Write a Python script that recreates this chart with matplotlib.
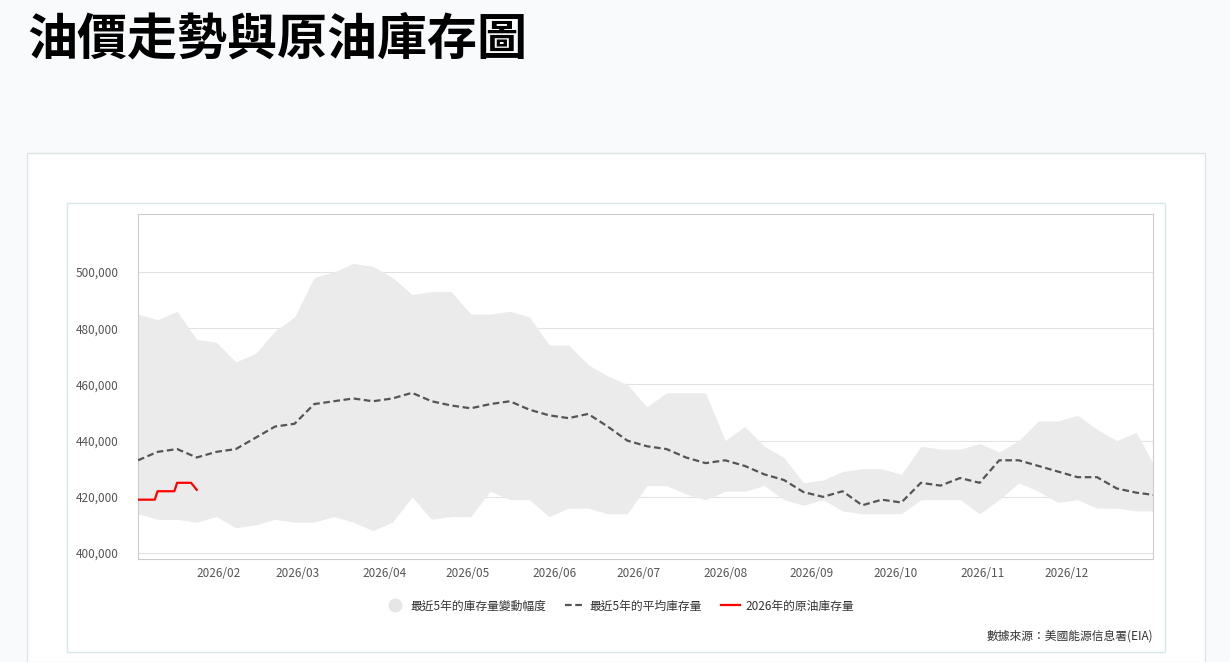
import matplotlib
matplotlib.use("Agg")
import matplotlib.pyplot as plt
import matplotlib.patches as mpatches
from matplotlib.lines import Line2D
import numpy as np
import pandas as pd

plt.rcParams['font.family'] = ['Noto Sans CJK TC', 'DejaVu Sans']

weeks = pd.date_range("2026-01-03", periods=53, freq="7D")
upper = [485,483,486,476,475,468,471,479,484,498,500,503,502,498,492,493,493,485,485,486,
         484,474,474,467,463,460,452,457,457,457,440,445,438,434,425,426,429,430,430,428,
         438,437,437,439,436,440,447,447,449,444,440,443,430]
lower = [414,412,412,411,413,409,410,412,411,411,413,411,408,411,420,412,413,413,422,419,
         419,413,416,416,414,414,424,424,421,419,422,422,424,419,417,419,415,414,414,414,
         419,419,419,414,419,425,422,418,419,416,416,415,415]
avg = [433,436,437,434,436,437,441,445,446,453,454,455,454,455,457,454,452.5,451.5,453,454,
       451,449,448,449.5,445,440,438,437,434,432,433,431,428,426,421.7,420,422,417,419,418,
       425,424,426.7,425,433,433,431,429,427,427,423,421.5,420.6]
red_dates = pd.to_datetime(["2026-01-03","2026-01-09","2026-01-10","2026-01-16","2026-01-17","2026-01-22","2026-01-24"])
red_vals = [419,419,422,422,425,425,422.5]

month_ticks = pd.date_range("2026-02-01", periods=11, freq="MS")
month_labels = [d.strftime("%Y/%m") for d in month_ticks]
yticks = [400000,420000,440000,460000,480000,500000]

fig = plt.figure(figsize=(12.3, 6.62), dpi=100, facecolor="#f8fafc")
W, H = 1230, 662
fig.patches.append(mpatches.Rectangle((27/W, 0), (1205-27)/W, (662-153)/H, transform=fig.transFigure,
                                      facecolor="white", edgecolor="#dde6e6", lw=1, zorder=-10))
fig.patches.append(mpatches.Rectangle((67/W, (662-652)/H), (1165-67)/W, (652-203)/H, transform=fig.transFigure,
                                      facecolor="white", edgecolor="#d8e6e6", lw=1, zorder=-9))
fig.text(27/W, 1-40/H, "油價走勢與原油庫存圖", fontsize=36, fontweight="bold", va="center", ha="left")

ax = fig.add_axes([138/W, 1-559/H, (1153-138)/W, (559-214)/H])
ax.set_facecolor("none")
u = np.array(upper)*1000; l = np.array(lower)*1000; a = np.array(avg)*1000
ax.fill_between(weeks, l, u, color="#ebebeb", lw=0, zorder=1)
ax.plot(weeks, a, color="#555555", lw=1.6, ls=(0, (3, 1.6)), zorder=3)
ax.plot(red_dates, np.array(red_vals)*1000, color="#ff0000", lw=1.6, zorder=4)
ax.set_xlim(pd.Timestamp("2026-01-03"), pd.Timestamp("2027-01-01"))
ax.set_ylim(397900, 520600)
ax.set_yticks(yticks)
ax.set_yticklabels([f"{v:,}" for v in yticks])
ax.set_xticks(month_ticks)
ax.set_xticklabels(month_labels)
ax.tick_params(length=0, labelsize=8.5, colors="#555555")
ax.tick_params(axis='y', pad=14)
ax.tick_params(axis='x', pad=6)
ax.grid(axis='y', color="#e2e2e2", lw=0.8, zorder=0)
ax.set_axisbelow(True)
for s in ax.spines.values():
    s.set_color("#cccccc")
    s.set_linewidth(0.8)

handles = [Line2D([], [], marker="o", ls="none", markersize=10, markerfacecolor="#e6e6e6", markeredgecolor="none"),
           Line2D([], [], color="#555555", lw=1.6, ls=(0, (3, 1.6))),
           Line2D([], [], color="#ff0000", lw=1.6)]
labels = ["最近5年的庫存量變動幅度", "最近5年的平均庫存量", "2026年的原油庫存量"]
leg = fig.legend(handles, labels, loc="center", bbox_to_anchor=(620/W, 1-606/H), ncol=3, frameon=False,
                 fontsize=8.5, handlelength=1.6, columnspacing=1.6, handletextpad=0.5)
for t in leg.get_texts():
    t.set_color("#333333")
fig.text(1153/W, 1-636/H, "數據來源：美國能源信息署(EIA)", fontsize=8.5, ha="right", va="center", color="#333333")

fig.savefig("out.png", dpi=100, facecolor=fig.get_facecolor())
